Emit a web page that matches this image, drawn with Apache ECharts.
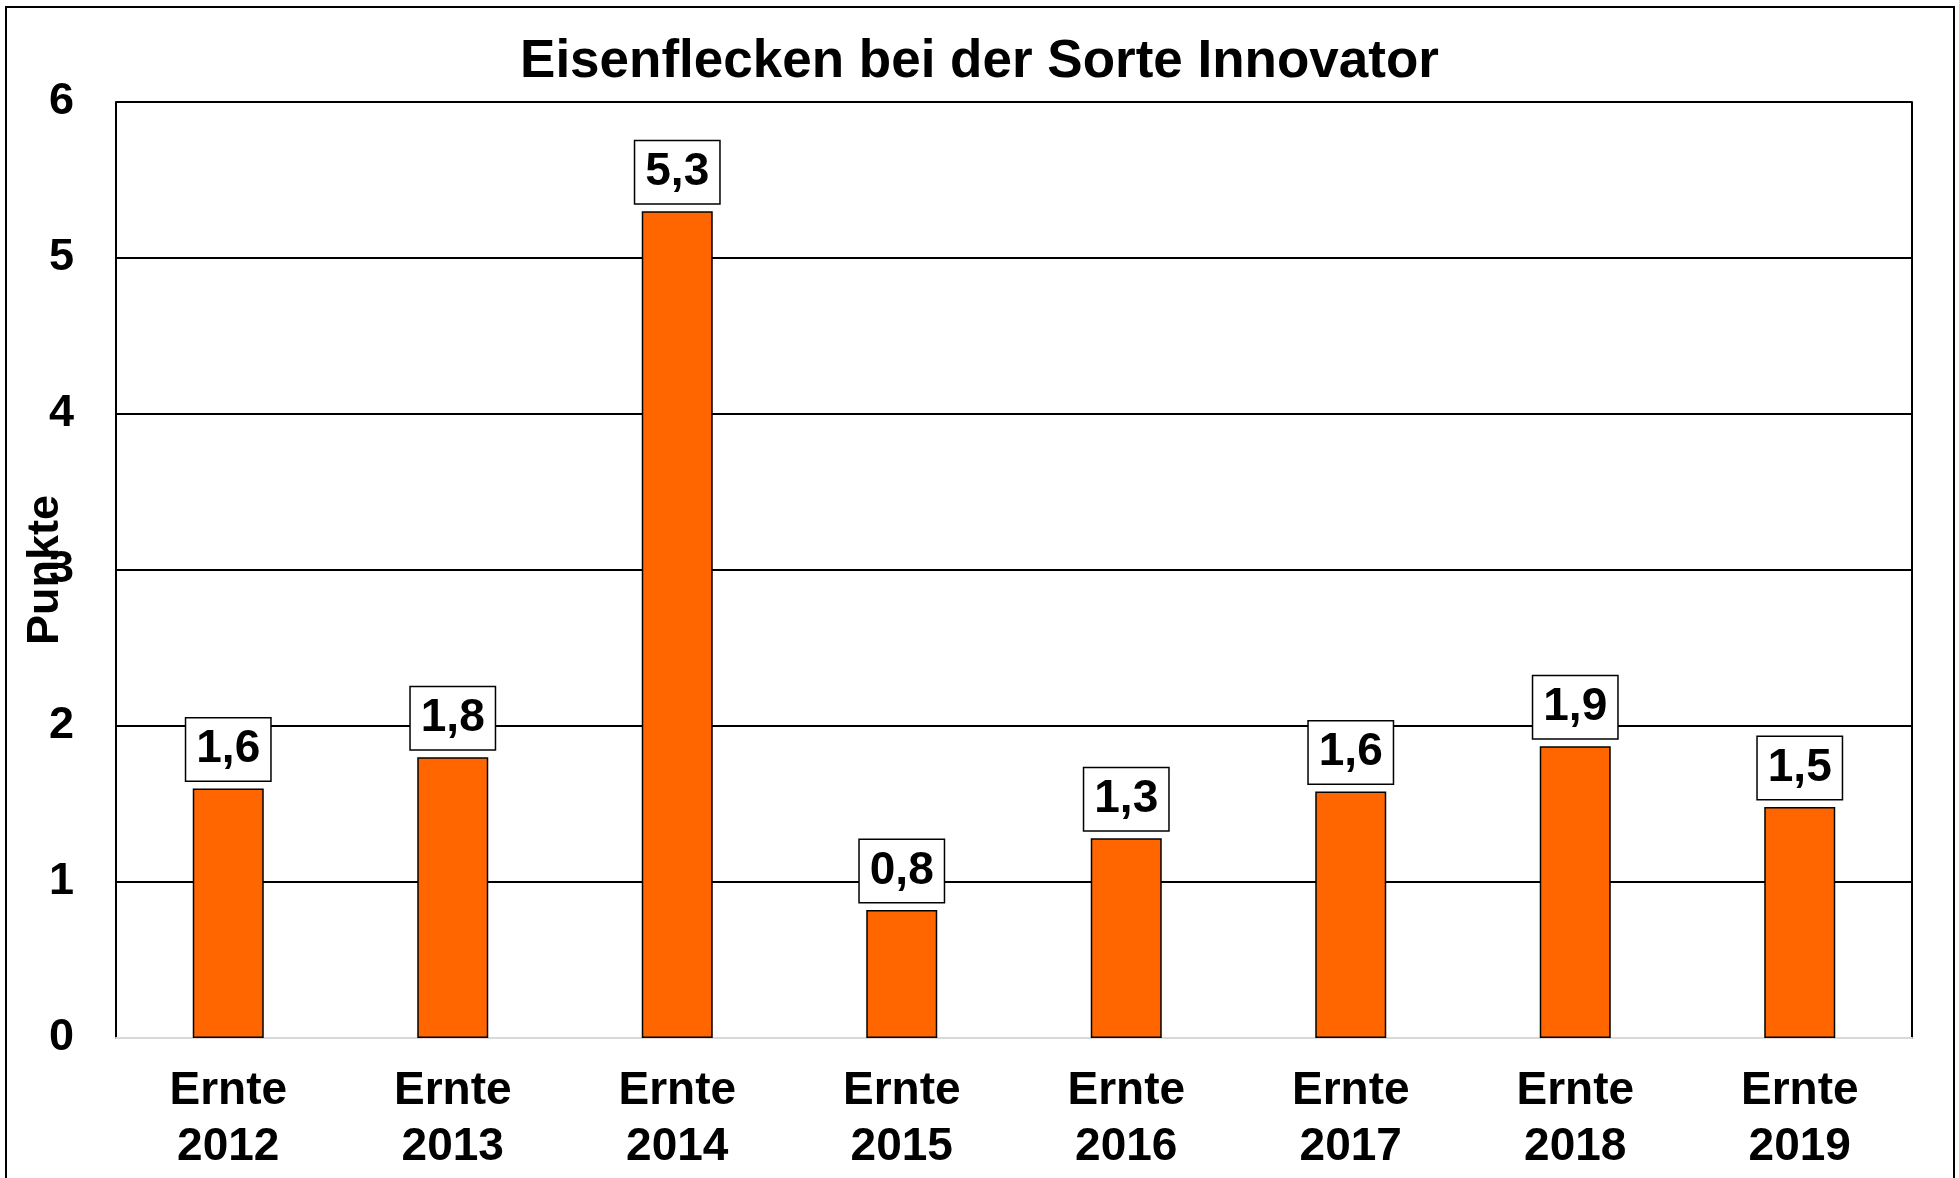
<!DOCTYPE html>
<html>
<head>
<meta charset="utf-8">
<script src="https://cdn.jsdelivr.net/npm/echarts@6/dist/echarts.min.js"></script>
<style>
  html, body { margin: 0; padding: 0; background: #fff; }
  #chart { width: 1959px; height: 1178px; }
</style>
</head>
<body>
<div id="chart"></div>
<script>
  var years = ['2012', '2013', '2014', '2015', '2016', '2017', '2018', '2019'];
  var points = [1.6, 1.8, 5.3, 0.82, 1.28, 1.58, 1.87, 1.48];
  var yTicks = [0, 1, 2, 3, 4, 5, 6];

  var font = 'Liberation Sans, Arial, sans-serif';
  var orange = '#ff6600';

  var chart = echarts.init(document.getElementById('chart'), null, { renderer: 'canvas' });
  chart.setOption({
    animation: false,
    backgroundColor: '#fff',
    title: {
      text: 'Eisenflecken bei der Sorte Innovator',
      left: 'center',
      top: 31,
      textStyle: { fontFamily: font, fontSize: 53, fontWeight: 'bold', color: '#000' }
    },
    graphic: [{
      type: 'rect',
      shape: { x: 6, y: 7, width: 1948, height: 1200 },
      style: { fill: 'none', stroke: '#000', lineWidth: 2 },
      z: 100
    }],
    grid: { left: 116, right: 47, top: 102, bottom: 140, containLabel: false, outerBoundsMode: 'none' },
    xAxis: {
      type: 'category',
      data: years.map(function (y) { return 'Ernte\n' + y; }),
      axisLine: { lineStyle: { color: '#d9d9d9', width: 2 } },
      axisTick: { show: false },
      axisLabel: {
        margin: 25,
        color: '#000',
        fontFamily: font,
        fontSize: 46,
        fontWeight: 'bold',
        lineHeight: 56
      }
    },
    yAxis: [{
      type: 'value',
      min: yTicks[0],
      max: yTicks[yTicks.length - 1],
      interval: 1,
      name: 'Punkte',
      nameLocation: 'middle',
      nameGap: 48,
      nameMoveOverlap: false,
      nameTextStyle: { fontFamily: font, fontSize: 45, fontWeight: 'bold', color: '#000' },
      axisLine: { show: true, lineStyle: { color: '#000', width: 2 } },
      axisTick: { show: false },
      axisLabel: { margin: 42, color: '#000', fontFamily: font, fontSize: 45, fontWeight: 'bold' },
      splitLine: { lineStyle: { color: '#000', width: 2 } }
    }, {
      type: 'value',
      position: 'right',
      min: yTicks[0],
      max: yTicks[yTicks.length - 1],
      interval: 1,
      axisLine: { show: true, lineStyle: { color: '#000', width: 2 } },
      axisTick: { show: false },
      axisLabel: { show: false },
      splitLine: { show: false }
    }],
    series: [{
      type: 'bar',
      data: points,
      barWidth: 71,
      itemStyle: { color: orange, borderColor: '#000', borderWidth: 1.5 },
      label: {
        show: true,
        position: 'top',
        distance: 8,
        formatter: function (p) { return p.value.toFixed(1).replace('.', ','); },
        fontFamily: font,
        fontSize: 46,
        fontWeight: 'bold',
        color: '#000',
        backgroundColor: '#fff',
        borderColor: '#000',
        borderWidth: 1.5,
        padding: [8, 10, 8, 10]
      }
    }]
  });
</script>
</body>
</html>
